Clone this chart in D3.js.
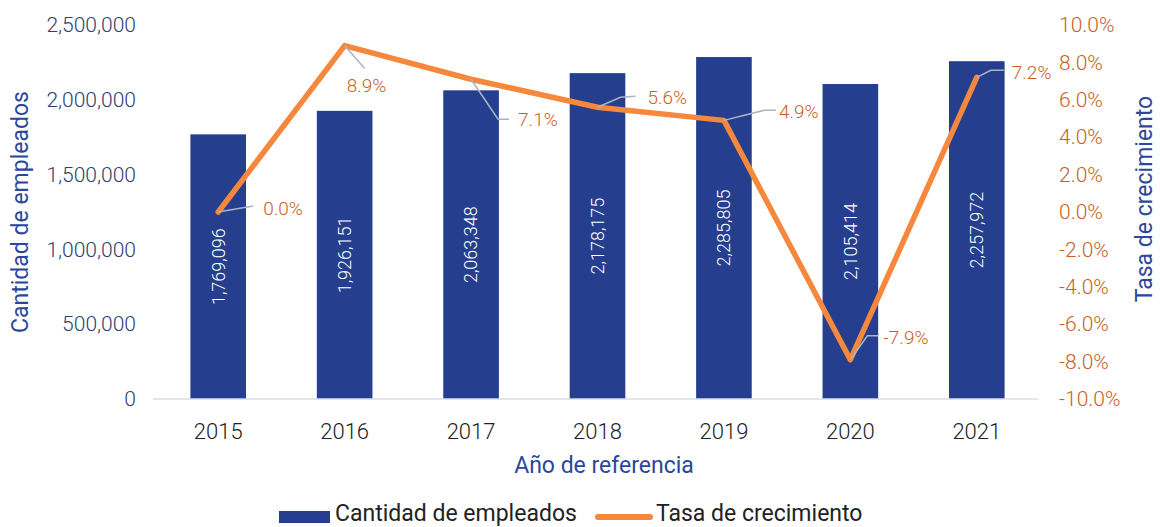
<!DOCTYPE html>
<html>
<head>
<meta charset="utf-8">
<script src="https://cdn.jsdelivr.net/npm/d3@7"></script>
<style>
  body { margin: 0; background: #fff; }
  svg { font-family: Roboto, "Noto Sans", sans-serif; }
</style>
</head>
<body>
<div id="chart"></div>
<script>
// datos del grafico
var years = ["2015", "2016", "2017", "2018", "2019", "2020", "2021"];
var empleados = [1769096, 1926151, 2063348, 2178175, 2285805, 2105414, 2257972];
var tasa = [0.0, 8.9, 7.1, 5.6, 4.9, -7.9, 7.2];
var leftTicks = [0, 500000, 1000000, 1500000, 2000000, 2500000];
var rightTicks = [-10, -8, -6, -4, -2, 0, 2, 4, 6, 8, 10];

var width = 1160, height = 527;
var barColor = "#253f8e";
var lineColor = "#f5883c";
var pctColor = "#c95f27";
var titleColor = "#2b479c";

var svg = d3.select("#chart").append("svg")
    .attr("width", width)
    .attr("height", height);

var xScale = d3.scaleBand()
    .domain(years)
    .range([155, 1040])
    .paddingInner(0.56)
    .paddingOuter(0.28);
var yLeft = d3.scaleLinear().domain([0, 2500000]).range([399, 25]);
var yRight = d3.scaleLinear().domain([-10, 10]).range([399, 25]);

// eje izquierdo
var leftAxis = svg.append("g")
    .attr("transform", "translate(140,0)")
    .call(d3.axisLeft(yLeft).tickValues(leftTicks).tickSize(0).tickPadding(4)
        .tickFormat(d3.format(",")));
leftAxis.select(".domain").remove();
leftAxis.selectAll("text")
    .attr("font-size", 21)
    .attr("font-family", "Roboto")
    .attr("font-weight", 300)
    .attr("fill", "#2e416e");

// eje derecho
var rightAxis = svg.append("g")
    .attr("transform", "translate(1055,0)")
    .call(d3.axisRight(yRight).tickValues(rightTicks).tickSize(0).tickPadding(4)
        .tickFormat(function (d) { return d.toFixed(1) + "%"; }));
rightAxis.select(".domain").remove();
rightAxis.selectAll("text")
    .attr("font-size", 21)
    .attr("font-family", "Roboto")
    .attr("font-weight", 300)
    .attr("fill", pctColor);

// barras
svg.selectAll("rect.bar")
    .data(empleados)
    .enter().append("rect")
    .attr("class", "bar")
    .attr("x", function (d, i) { return xScale(years[i]); })
    .attr("y", function (d) { return yLeft(d); })
    .attr("width", xScale.bandwidth())
    .attr("height", function (d) { return yLeft(0) - yLeft(d); })
    .attr("fill", barColor);

// linea base
svg.append("line")
    .attr("x1", 153).attr("x2", 1038)
    .attr("y1", yLeft(0)).attr("y2", yLeft(0))
    .attr("stroke", "#d8dce6")
    .attr("stroke-width", 1.5);

// etiquetas dentro de las barras
svg.selectAll("text.barlabel")
    .data(empleados)
    .enter().append("text")
    .attr("class", "barlabel")
    .attr("transform", function (d, i) {
        var cx = xScale(years[i]) + xScale.bandwidth() / 2;
        var cy = (yLeft(d) + yLeft(0)) / 2;
        return "translate(" + cx + "," + cy + ") rotate(-90)";
    })
    .attr("text-anchor", "middle")
    .attr("dy", "0.35em")
    .attr("font-size", 18)
    .attr("font-weight", 300)
    .attr("fill", "#fff")
    .text(function (d) { return d3.format(",")(d); });

// linea de tasa
var line = d3.line()
    .x(function (d, i) { return xScale(years[i]) + xScale.bandwidth() / 2; })
    .y(function (d) { return yRight(d); });

svg.append("path")
    .datum(tasa)
    .attr("fill", "none")
    .attr("stroke", lineColor)
    .attr("stroke-width", 5.5)
    .attr("stroke-linejoin", "round")
    .attr("stroke-linecap", "round")
    .attr("d", line);

// lineas guia y etiquetas de porcentaje (desplazamientos desde el punto)
var guides = [
    { mid: [35, -6], end: [35, -6], text: [45, -4] },
    { mid: [20, 23], end: [20, 23], text: [2, 40] },
    { mid: [27, 40], end: [38, 40], text: [47, 40] },
    { mid: [23, -10], end: [38, -11], text: [50, -10] },
    { mid: [40, -10], end: [52, -10], text: [55, -9] },
    { mid: [17, -24], end: [28, -24], text: [33, -22] },
    { mid: [14, -7], end: [27, -7], text: [35, -5] }
];

var gl = svg.selectAll("g.pct")
    .data(tasa)
    .enter().append("g")
    .attr("class", "pct")
    .attr("transform", function (d, i) {
        return "translate(" + (xScale(years[i]) + xScale.bandwidth() / 2) + "," + yRight(d) + ")";
    });

gl.append("polyline")
    .attr("points", function (d, i) {
        var g = guides[i];
        return "0,0 " + g.mid.join(",") + " " + g.end.join(",");
    })
    .attr("fill", "none")
    .attr("stroke", "#a9b4c4")
    .attr("stroke-width", 1.5);

gl.append("text")
    .attr("x", function (d, i) { return guides[i].text[0]; })
    .attr("y", function (d, i) { return guides[i].text[1]; })
    .attr("dy", "0.35em")
    .attr("font-size", 19)
    .attr("font-weight", 300)
    .attr("fill", pctColor)
    .text(function (d) { return d.toFixed(1) + "%"; });

// etiquetas del eje x
svg.selectAll("text.year")
    .data(years)
    .enter().append("text")
    .attr("class", "year")
    .attr("x", function (d) { return xScale(d) + xScale.bandwidth() / 2; })
    .attr("y", 439)
    .attr("text-anchor", "middle")
    .attr("font-size", 22)
    .attr("font-weight", 300)
    .attr("fill", "#222")
    .text(function (d) { return d; });

// titulos
svg.append("text")
    .attr("x", 604).attr("y", 473)
    .attr("text-anchor", "middle")
    .attr("font-size", 23)
    .attr("fill", titleColor)
    .text("Año de referencia");

svg.append("text")
    .attr("transform", "translate(28,212) rotate(-90)")
    .attr("text-anchor", "middle")
    .attr("font-size", 23)
    .attr("fill", titleColor)
    .text("Cantidad de empleados");

svg.append("text")
    .attr("transform", "translate(1152,199) rotate(-90)")
    .attr("text-anchor", "middle")
    .attr("font-size", 23)
    .attr("fill", titleColor)
    .text("Tasa de crecimiento");

// leyenda
svg.append("rect")
    .attr("x", 279).attr("y", 511)
    .attr("width", 51).attr("height", 12)
    .attr("fill", barColor);
svg.append("text")
    .attr("x", 335).attr("y", 521)
    .attr("font-size", 23)
    .attr("fill", "#222")
    .text("Cantidad de empleados");
svg.append("line")
    .attr("x1", 598).attr("x2", 650)
    .attr("y1", 517).attr("y2", 517)
    .attr("stroke", lineColor)
    .attr("stroke-width", 6)
    .attr("stroke-linecap", "round");
svg.append("text")
    .attr("x", 656).attr("y", 521)
    .attr("font-size", 23)
    .attr("fill", "#222")
    .text("Tasa de crecimiento");
</script>
</body>
</html>
